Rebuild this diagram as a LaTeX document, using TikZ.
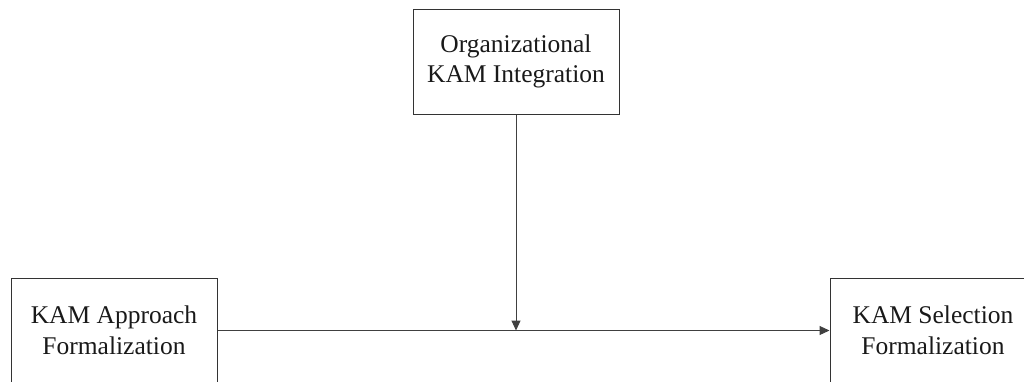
\documentclass[tikz,border=0pt]{standalone}
\usepackage{fontspec}
\setmainfont{Liberation Serif}
\usetikzlibrary{arrows.meta}
\begin{document}
\begin{tikzpicture}[x=1pt,y=-1pt,
  box/.style={draw=black!80,line width=1pt,minimum width=206pt,minimum height=105pt,inner sep=0pt,align=center,font=\fontsize{25.5}{30.5}\selectfont,text=black!90},
  conn/.style={draw=black!75,line width=1pt,-{Triangle[length=10pt,width=9pt]}}]
\useasboundingbox (0,0) rectangle (1024,381);
\clip (0,0) rectangle (1024,381);
\node[box] (top) at (516,61.5) {Organizational\\KAM Integration};
\node[box] (left) at (114,330.5) {KAM Approach\\Formalization};
\node[box] (right) at (933,330.5) {KAM Selection\\Formalization};
\coordinate (m) at (top.south |- left.east);
\draw[conn] (left.east) -- (right.west);
\draw[conn] (top.south) -- (m);
\end{tikzpicture}
\end{document}
